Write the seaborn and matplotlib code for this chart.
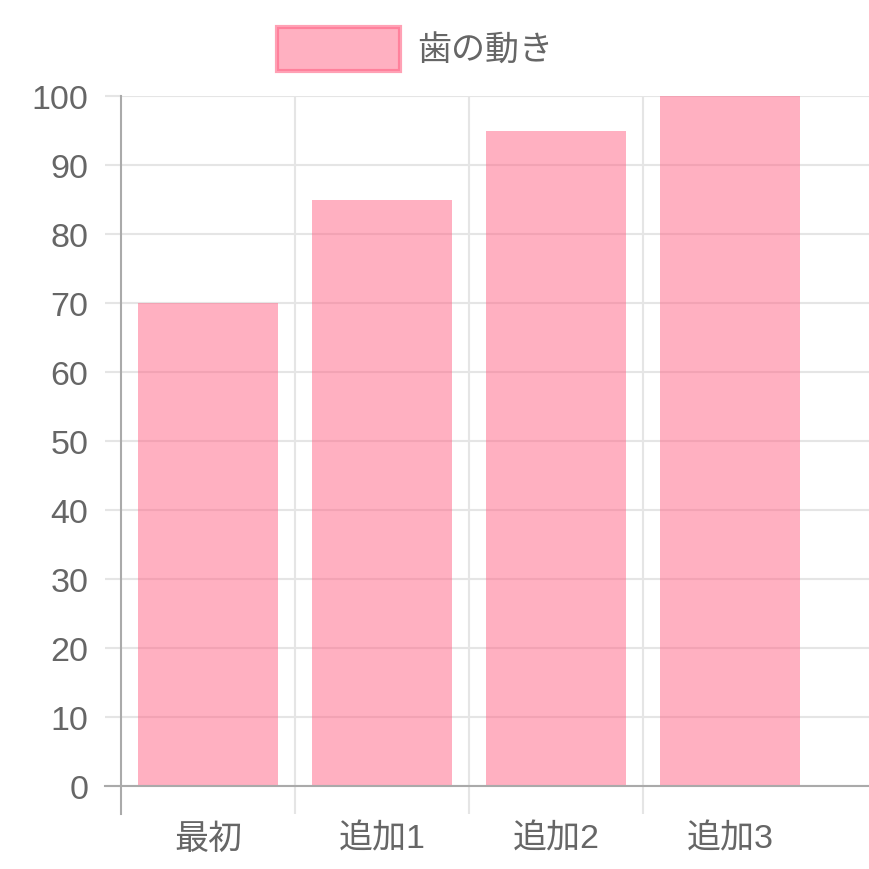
import matplotlib
matplotlib.use("Agg")
import matplotlib.pyplot as plt
import seaborn as sns
import pandas as pd
from matplotlib.patches import Patch

# datos del grafico
categorias = ["最初", "追加1", "追加2", "追加3"]
valores = [70, 85, 95, 100]
etiqueta_serie = "歯の動き"
ticks_y = [0, 10, 20, 30, 40, 50, 60, 70, 80, 90, 100]

df = pd.DataFrame({"cat": categorias, "val": valores})

sns.set_style("white")
plt.rcParams["font.family"] = ["Liberation Sans", "Noto Sans CJK JP", "DejaVu Sans"]

rosa = (1.0, 99 / 255, 132 / 255)
gris_texto = "#666666"
gris_grid = "#e5e5e5"
gris_eje = "#aaaaaa"

fig = plt.figure(figsize=(8.7, 8.7), dpi=100)
ax = fig.add_axes([121 / 870, 83 / 870, 749 / 870, 690 / 870])

sns.barplot(data=df, x="cat", y="val", color=rosa, alpha=0.5, width=0.8,
            saturation=1, ax=ax, zorder=3, linewidth=0)

ax.set_xlim(-0.5, -0.5 + 749 / 174)
ax.set_ylim(0, 100)
ax.set_yticks(ticks_y)
ax.set_xlabel("")
ax.set_ylabel("")

# rejilla horizontal
ax.yaxis.grid(True, color=gris_grid, linewidth=1.5, zorder=0)
ax.tick_params(axis="y", which="major", length=11.5, width=1.5, color=gris_grid,
               labelsize=24.5, labelcolor=gris_texto, pad=12, left=True)

# rejilla vertical entre categorias (ticks menores)
ax.set_xticks([0.5, 1.5, 2.5], minor=True)
ax.xaxis.grid(True, which="minor", color=gris_grid, linewidth=1.5, zorder=0)
ax.xaxis.grid(False, which="major")
ax.tick_params(axis="x", which="minor", length=20, width=1.5, color=gris_grid,
               bottom=True)
ax.tick_params(axis="x", which="major", length=0, labelsize=24.5,
               labelcolor=gris_texto, pad=27)
ax.set_axisbelow(True)

# ejes
for lado in ["top", "right"]:
    ax.spines[lado].set_visible(False)
for lado in ["left", "bottom"]:
    ax.spines[lado].set_color(gris_eje)
    ax.spines[lado].set_linewidth(1.5)
    ax.spines[lado].set_zorder(4)
ax.spines["left"].set_bounds(-28 / 6.9, 100)
ax.spines["bottom"].set_bounds(-0.5 - 16 / 174, -0.5 + 749 / 174)

# leyenda arriba
handle = Patch(facecolor=(*rosa, 0.5), edgecolor=(*rosa, 0.6), linewidth=3)
fig.legend([handle], [etiqueta_serie], loc="center",
           bbox_to_anchor=(415 / 870, 1 - 50 / 870), frameon=False,
           fontsize=24.5, labelcolor=gris_texto, handlelength=3.6,
           handleheight=1.6, handletextpad=0.5)

fig.savefig("out.png", dpi=100)
